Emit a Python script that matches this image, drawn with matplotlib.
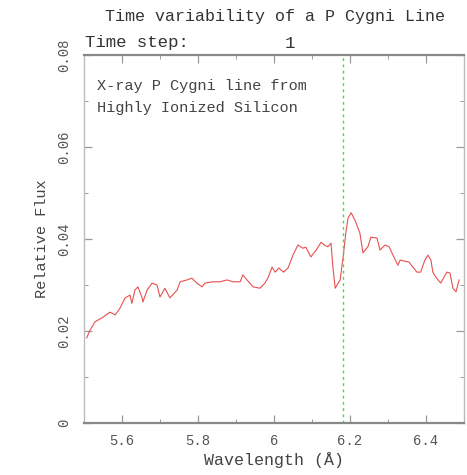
"""
P Cygni line profile, time step 1 (Si XIV region)
"""

import numpy as np
import matplotlib
matplotlib.use('Agg')
import matplotlib.pyplot as plt
from matplotlib.ticker import MultipleLocator

# wavelength (A) and relative flux
wave = [5.507, 5.516, 5.529, 5.550, 5.568, 5.582, 5.595, 5.608, 5.621, 5.626,
        5.634, 5.642, 5.653, 5.655, 5.666, 5.679, 5.692, 5.700, 5.713, 5.726,
        5.745, 5.753, 5.771, 5.784, 5.797, 5.811, 5.818, 5.839, 5.858, 5.876,
        5.892, 5.911, 5.918, 5.929, 5.945, 5.963, 5.976, 5.984, 5.995, 6.003,
        6.013, 6.025, 6.037, 6.050, 6.063, 6.076, 6.084, 6.097, 6.111, 6.124,
        6.132, 6.142, 6.150, 6.155, 6.161, 6.174, 6.182, 6.189, 6.195, 6.203,
        6.213, 6.226, 6.234, 6.247, 6.255, 6.271, 6.279, 6.292, 6.303, 6.313,
        6.326, 6.332, 6.355, 6.376, 6.386, 6.397, 6.405, 6.413, 6.418, 6.426,
        6.439, 6.447, 6.455, 6.463, 6.471, 6.479, 6.487]
flux = [0.0185, 0.0202, 0.0220, 0.0230, 0.0241, 0.0235, 0.0250, 0.0272, 0.0278, 0.0260,
        0.0289, 0.0296, 0.0272, 0.0263, 0.0289, 0.0304, 0.0300, 0.0274, 0.0293, 0.0272,
        0.0289, 0.0307, 0.0311, 0.0315, 0.0304, 0.0296, 0.0304, 0.0307, 0.0307, 0.0311,
        0.0307, 0.0307, 0.0322, 0.0311, 0.0296, 0.0293, 0.0304, 0.0315, 0.0339, 0.0328,
        0.0337, 0.0328, 0.0337, 0.0365, 0.0387, 0.0380, 0.0382, 0.0361, 0.0376, 0.0393,
        0.0387, 0.0383, 0.0391, 0.0339, 0.0293, 0.0311, 0.0361, 0.0413, 0.0446, 0.0457,
        0.0441, 0.0413, 0.0370, 0.0383, 0.0404, 0.0402, 0.0376, 0.0387, 0.0383, 0.0365,
        0.0343, 0.0354, 0.0350, 0.0328, 0.0328, 0.0354, 0.0365, 0.0354, 0.0328, 0.0317,
        0.0304, 0.0317, 0.0328, 0.0326, 0.0293, 0.0285, 0.0311]

line_center = 6.182
x_ticks = [5.6, 5.8, 6.0, 6.2, 6.4]
x_ticklabels = ['5.6', '5.8', '6', '6.2', '6.4']
y_ticks = [0, 0.02, 0.04, 0.06, 0.08]
y_ticklabels = ['0', '0.02', '0.04', '0.06', '0.08']

# wide monospaced serif, close to the old vector plotting fonts
plt.rcParams['font.family'] = ['Liberation Mono', 'DejaVu Sans Mono']

fig = plt.figure(figsize=(4.67, 4.75), dpi=100)
ax = fig.add_axes([84 / 467, 1 - 423 / 475, 380 / 467, 368 / 475])

ax.plot(wave, flux, color='#e85050', lw=0.8)
ax.axvline(line_center, color='#3ee03e', lw=1.0, ls=(0, (2, 2.5)))

ax.set_xlim(5.5, 6.5)
ax.set_ylim(0, 0.08)

ax.set_xticks(x_ticks)
ax.set_xticklabels(x_ticklabels, fontsize=10, color='#555555')
ax.xaxis.set_minor_locator(MultipleLocator(0.1))
ax.set_yticks(y_ticks)
ax.set_yticklabels(y_ticklabels, fontsize=10, color='#555555', rotation=90, va='center')
ax.yaxis.set_minor_locator(MultipleLocator(0.01))
ax.tick_params(which='both', direction='in', top=True, right=True, color='#999999')
ax.tick_params(which='major', length=6, width=0.9)
ax.tick_params(which='minor', length=3, width=0.7)
ax.tick_params(axis='x', pad=8)
ax.tick_params(axis='y', pad=9)

for side in ('top', 'bottom'):
    ax.spines[side].set_color('#888888')
    ax.spines[side].set_linewidth(1.6)
for side in ('left', 'right'):
    ax.spines[side].set_color('#bbbbbb')
    ax.spines[side].set_linewidth(1.0)
    ax.spines[side].set_linestyle((0, (2, 1)))

ax.set_xlabel('Wavelength (Å)', fontsize=12, color='#444444', labelpad=3)
ax.set_ylabel('Relative Flux', fontsize=11, color='#444444', labelpad=6)

fig.text(275 / 467, 1 - 17 / 475, 'Time variability of a P Cygni Line',
         ha='center', va='center', fontsize=12, color='#333333')
fig.text(85 / 467, 1 - 43 / 475, 'Time step:', ha='left', va='center',
         fontsize=12.5, color='#333333')
fig.text(290 / 467, 1 - 43 / 475, '1', ha='center', va='center',
         fontsize=12.5, color='#333333')

ax.text(0.035, 0.915, 'X-ray P Cygni line from', transform=ax.transAxes,
        fontsize=11, color='#444444', va='center')
ax.text(0.035, 0.855, 'Highly Ionized Silicon', transform=ax.transAxes,
        fontsize=11, color='#444444', va='center')

fig.savefig('out.png', dpi=100)
